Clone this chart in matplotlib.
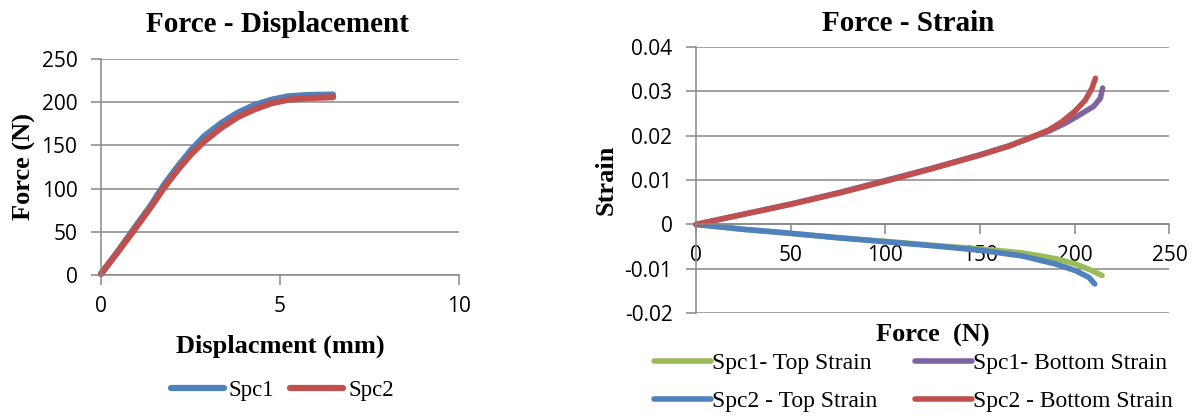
import matplotlib

matplotlib.use("Agg")
import matplotlib.pyplot as plt

SERIF = "Liberation Serif"
SANS = "Open Sans"
GRID = "#888888"
BLUE, RED, GREEN, PURPLE = "#4F81BD", "#C0504D", "#9BBB59", "#8064A2"

plt.rcParams.update({
    "font.family": SANS,
    "axes.unicode_minus": False,
})

# Force - displacement (mm, N)
disp = [0, 0.47, 0.93, 1.40, 1.77, 2.15, 2.52, 2.89, 3.36, 3.82, 4.29, 4.76,
        5.22, 5.78, 6.48]
force_spc1 = [1, 27, 54, 81, 105, 126, 145, 161, 176, 188, 197, 203, 207,
              208.5, 209]
force_spc2 = [1, 26.5, 52, 79, 101.5, 122, 140, 155, 170.5, 183, 192, 199, 203,
              205, 206]

# Force - strain, bottom fibre
f_bot_spc1 = [0, 25, 50, 75.8, 100, 125, 150, 165.3, 177.5, 186.3, 195.1, 203.9,
              210, 213.5, 214.7]
s_bot_spc1 = [0, 0.0023, 0.0046, 0.0072, 0.0099, 0.0127, 0.0157, 0.0177, 0.0196,
              0.0210, 0.0228, 0.0250, 0.0266, 0.0284, 0.0307]
f_bot_spc2 = [0, 24.9, 50, 75.8, 100, 124.9, 150, 165.3, 177.5, 186.3, 193.3,
              200.4, 205.6, 209.1, 210.9]
s_bot_spc2 = [0, 0.00226, 0.00452, 0.00708, 0.00972, 0.01258, 0.0156, 0.01763,
              0.01974, 0.02125, 0.02313, 0.02562, 0.0280, 0.0307, 0.0329]

# Force - strain, top fibre
f_top_spc1 = [0, 25, 50, 75, 100, 125, 150, 172.3, 189.8, 200.4, 209.1, 214.4]
s_top_spc1 = [0, -0.0011, -0.0020, -0.0030, -0.0038, -0.0047, -0.0055, -0.0064,
              -0.0077, -0.0089, -0.0104, -0.0115]
f_top_spc2 = [0, 25, 50, 75, 100, 125, 150, 172.3, 189.8, 200.4, 207.4, 210.5]
s_top_spc2 = [0, -0.0011, -0.0020, -0.0030, -0.0039, -0.0048, -0.0058, -0.0071,
              -0.0089, -0.0104, -0.0119, -0.0134]

disp_ticks = [0, 5, 10]
force_ticks = [0, 50, 100, 150, 200, 250]
strain_ticks = [-0.02, -0.01, 0, 0.01, 0.02, 0.03, 0.04]
strain_labels = ["-0.02", "-0.01", "0", "0.01", "0.02", "0.03", "0.04"]


def style_axes(ax):
    for side in ("top", "right"):
        ax.spines[side].set_visible(False)
    for side in ("left", "bottom"):
        ax.spines[side].set_color(GRID)
        ax.spines[side].set_linewidth(1.1)
    ax.grid(axis="y", color=GRID, linewidth=1.1)
    ax.set_axisbelow(True)
    ax.tick_params(direction="out", length=7, width=1.1, color=GRID,
                   labelsize=15, labelcolor="black")
    ax.tick_params(axis="x", pad=8)
    ax.tick_params(axis="y", pad=10)


fig = plt.figure(figsize=(11.97, 4.19), dpi=100)

# ---- left: force vs displacement
ax1 = fig.add_axes([0.0844, 0.3444, 0.2991, 0.5141])
ax1.plot(disp, force_spc1, color=BLUE, lw=4.5, solid_capstyle="round",
         clip_on=False, label="Spc1")
ax1.plot(disp, force_spc2, color=RED, lw=4.5, solid_capstyle="round",
         clip_on=False, label="Spc2")
ax1.set_xlim(0, 10)
ax1.set_ylim(0, 250)
ax1.set_xticks(disp_ticks)
ax1.set_yticks(force_ticks)
style_axes(ax1)

ax1.set_xlabel("Displacment (mm)", family=SERIF, weight="bold", fontsize=19)
ax1.xaxis.label.set_va("baseline")
ax1.xaxis.set_label_coords(0.5, -0.362)
ax1.set_ylabel("Force (N)", family=SERIF, weight="bold", fontsize=19)
ax1.yaxis.label.set_va("baseline")
ax1.yaxis.set_label_coords(-0.198, 0.5)
fig.text(277.5 / 1197, 1 - 31.7 / 419, "Force - Displacement", ha="center",
         va="baseline", family=SERIF, weight="bold", fontsize=21)

h1, l1 = ax1.get_legend_handles_labels()
fig.legend(h1, l1, loc="center", bbox_to_anchor=(0.236, 0.0692), ncol=2,
           frameon=False, prop={"family": SERIF, "size": 16.5},
           handlelength=2.3, handletextpad=0.22, columnspacing=0.7, borderpad=0)

# ---- right: force vs strain
ax2 = fig.add_axes([0.5815, 0.2523, 0.3955, 0.6362])
kw = dict(lw=4, solid_capstyle="round", clip_on=False)
ln_t1, = ax2.plot(f_top_spc1, s_top_spc1, color=GREEN, label="Spc1- Top Strain", **kw)
ln_b1, = ax2.plot(f_bot_spc1, s_bot_spc1, color=PURPLE, label="Spc1- Bottom Strain", **kw)
ln_t2, = ax2.plot(f_top_spc2, s_top_spc2, color=BLUE, label="Spc2 - Top Strain", **kw)
ln_b2, = ax2.plot(f_bot_spc2, s_bot_spc2, color=RED, label="Spc2 - Bottom Strain", **kw)
ax2.set_xlim(0, 250)
ax2.set_ylim(-0.02, 0.04)
ax2.set_xticks(force_ticks)
ax2.set_yticks(strain_ticks)
ax2.set_yticklabels(strain_labels)
style_axes(ax2)
ax2.spines["bottom"].set_position(("data", 0))

ax2.set_xlabel("Force  (N)", family=SERIF, weight="bold", fontsize=19)
ax2.xaxis.label.set_va("baseline")
ax2.xaxis.set_label_coords(0.5, -0.1065)
ax2.set_ylabel("Strain", family=SERIF, weight="bold", fontsize=19)
ax2.yaxis.label.set_va("baseline")
ax2.yaxis.set_label_coords(-0.176, 0.5)
fig.text(908 / 1197, 1 - 31 / 419, "Force - Strain", ha="center",
         va="baseline", family=SERIF, weight="bold", fontsize=21)

# column-major fill: top strains in the first column
handles = [ln_t1, ln_t2, ln_b1, ln_b2]
fig.legend(handles, [h.get_label() for h in handles], loc="center",
           bbox_to_anchor=(0.763, 0.0871), ncol=2, frameon=False,
           prop={"family": SERIF, "size": 17}, handlelength=2.4,
           handletextpad=0.05, columnspacing=1.6, labelspacing=0.7,
           borderpad=0)

fig.savefig("out.png", dpi=100)
